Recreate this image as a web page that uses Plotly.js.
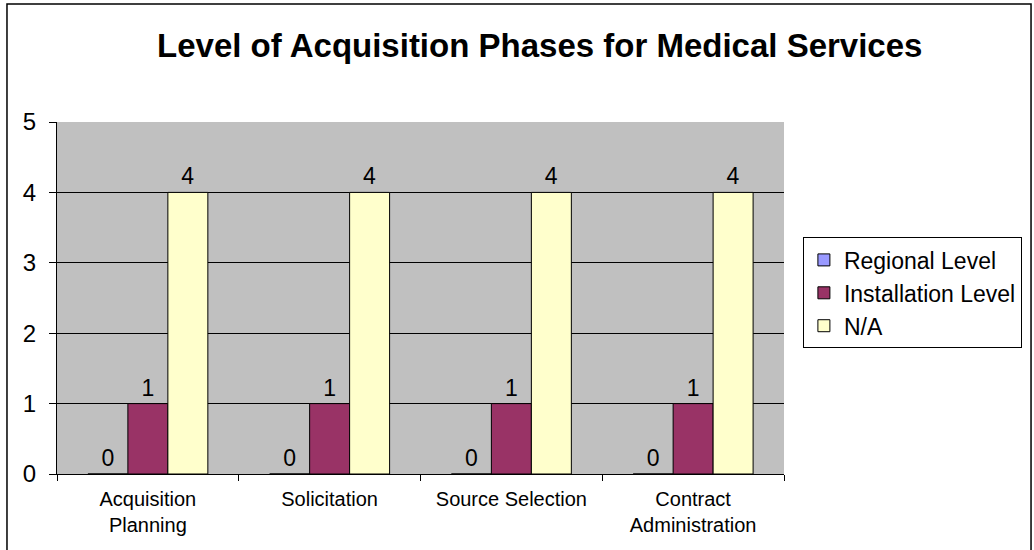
<!DOCTYPE html>
<html>
<head>
<meta charset="utf-8">
<script src="https://cdn.plot.ly/plotly-3.0.1.min.js"></script>
<style>
html,body{margin:0;padding:0;background:#fff;}
#chart{width:1034px;height:550px;}
</style>
</head>
<body>
<div id="chart"></div>
<script>
const categories = ["Acquisition<br>Planning", "Solicitation", "Source Selection", "Contract<br>Administration"];
const seriesNames = ["Regional Level", "Installation Level", "N/A"];
const regionalLevel = [0, 0, 0, 0];
const installationLevel = [1, 1, 1, 1];
const notApplicable = [4, 4, 4, 4];
const yTicks = [0, 1, 2, 3, 4, 5];

const colors = ["#9999FF", "#993366", "#FFFFCC"];
const values = [regionalLevel, installationLevel, notApplicable];

const traces = values.map((v, i) => ({
  type: "bar",
  name: seriesNames[i],
  x: categories,
  y: v,
  text: v.map(String),
  textposition: "outside",
  constraintext: "none",
  cliponaxis: false,
  textfont: {family: "Liberation Sans, Arial, sans-serif", size: 23, color: "#000"},
  marker: {color: colors[i], line: {color: "#000", width: 1}}
}));

const layout = {
  width: 1034,
  height: 550,
  margin: {l: 57, r: 250, t: 122, b: 76},
  paper_bgcolor: "#fff",
  plot_bgcolor: "#C0C0C0",
  font: {family: "Liberation Sans, Arial, sans-serif", color: "#000"},
  title: {
    text: "<b>Level of Acquisition Phases for Medical Services</b>",
    font: {size: 33, color: "#000"},
    x: 0.522, xanchor: "center",
    y: 0.918, yanchor: "middle"
  },
  barmode: "group",
  bargap: 0.34,
  bargroupgap: 0,
  showlegend: true,
  legend: {
    x: 1.026, xanchor: "left",
    y: 0.672, yanchor: "top",
    bordercolor: "#000", borderwidth: 1,
    bgcolor: "#fff",
    font: {size: 23, color: "#000"},
    tracegroupgap: 0,
    itemwidth: 30,
    itemclick: false
  },
  xaxis: {
    type: "category",
    showline: true, linecolor: "#000", linewidth: 1,
    ticks: "outside", tickson: "boundaries", ticklen: 6, tickcolor: "#000",
    tickfont: {size: 20, color: "#000"},
    ticklabelstandoff: 7,
    showgrid: false,
    fixedrange: true
  },
  yaxis: {
    range: [0, 5],
    tickvals: yTicks,
    ticktext: yTicks.map(String),
    showline: true, linecolor: "#000", linewidth: 1,
    ticks: "outside", ticklen: 7, tickcolor: "#000",
    tickfont: {size: 24, color: "#000"},
    ticklabelstandoff: 8,
    showgrid: true, gridcolor: "#000", gridwidth: 1,
    zeroline: false,
    fixedrange: true
  },
  shapes: [{
    type: "rect", xref: "paper", yref: "paper",
    x0: -0.0688, x1: 1.3398, y0: -0.3, y1: 1.335,
    line: {color: "#000", width: 1.5}, fillcolor: "rgba(0,0,0,0)", layer: "below"
  }]
};

Plotly.newPlot("chart", traces, layout, {displayModeBar: false, staticPlot: true});
</script>
</body>
</html>
